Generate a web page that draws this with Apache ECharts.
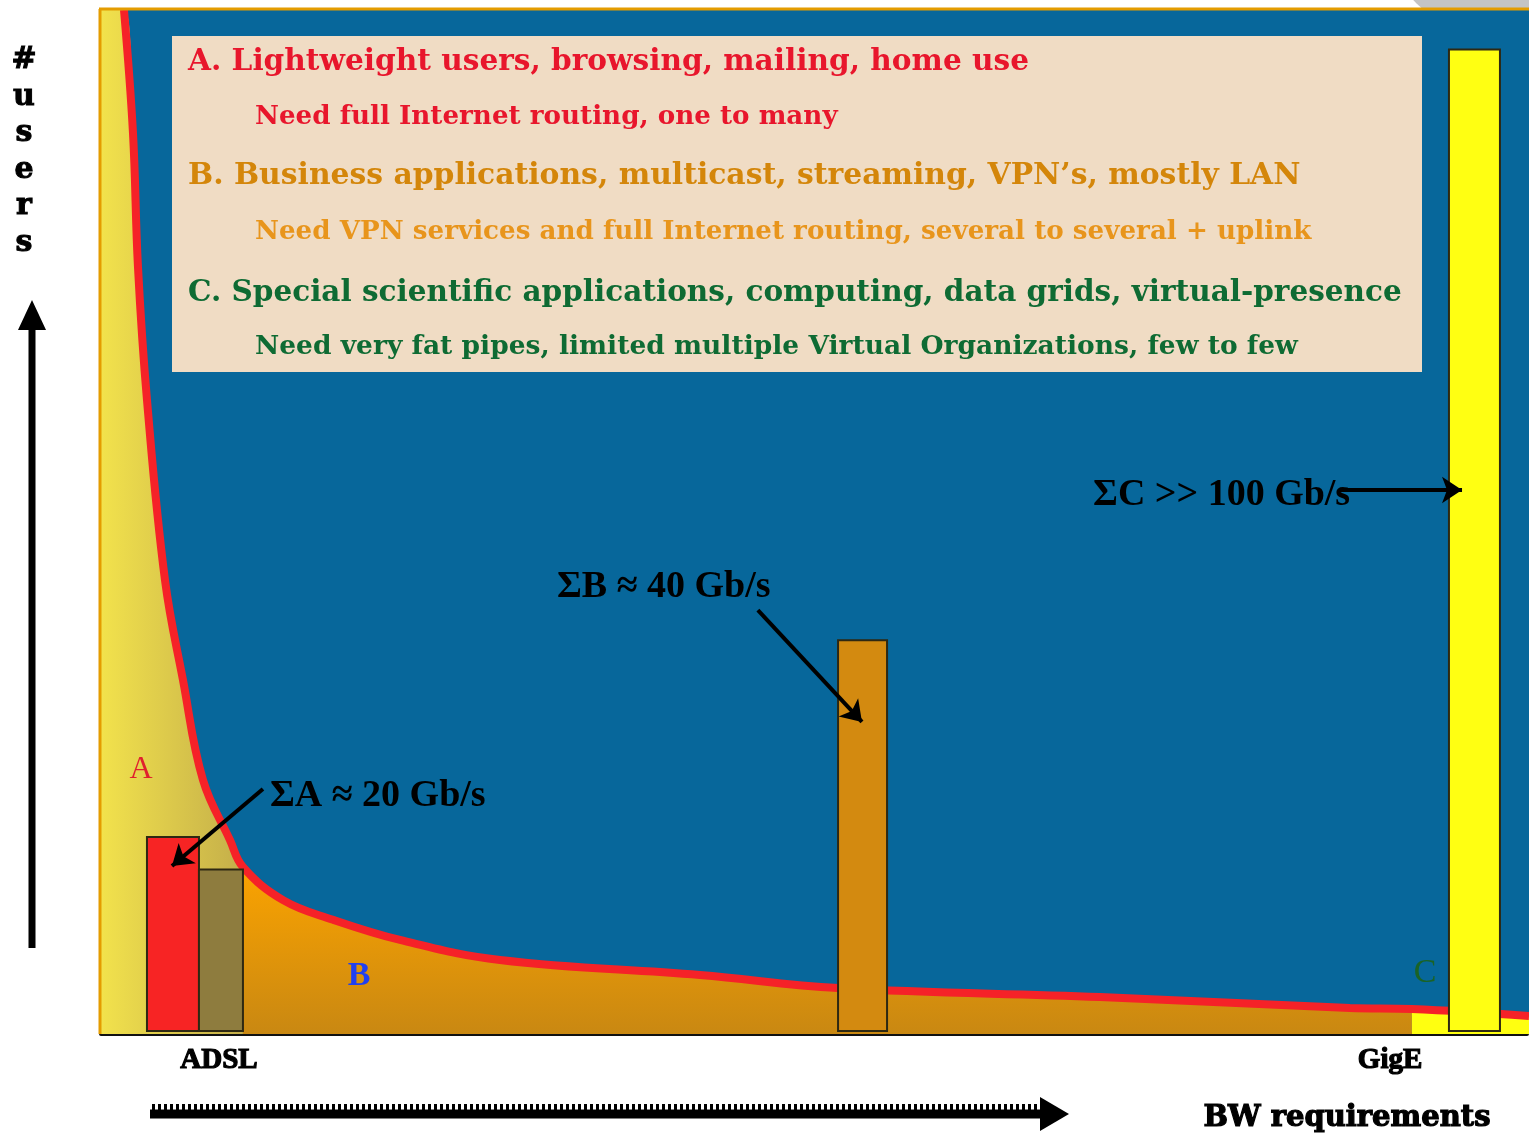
<!DOCTYPE html>
<html>
<head>
<meta charset="utf-8">
<script src="https://cdn.jsdelivr.net/npm/echarts@6/dist/echarts.min.js"></script>
<style>
  html, body { margin: 0; padding: 0; background: #ffffff; }
  #chart { width: 1529px; height: 1137px; }
</style>
</head>
<body>
<div id="chart"></div>
<script>
// Number of users against bandwidth requirement (relative units on both axes)
const curveX = [1.61, 2.24, 2.59, 3.22, 4.48, 5.74, 7.14, 9.03, 9.94, 12.75, 16.25, 20.94, 27.94, 41.95, 51.61, 69.96, 87.46, 91.8, 100];
const curveY = [104, 91.5, 77.9, 64.4, 46.1, 35.95, 25.8, 19.7, 16.96, 13.6, 11.6, 9.55, 7.52, 5.99, 4.67, 3.76, 2.64, 2.54, 1.83];

// Where user class A ends / class C begins along the bandwidth axis
const classEdgeAB = 9.94;
const classEdgeBC = 91.8;

// Aggregate bandwidth per class, Gb/s (second bar is the rest of class A)
const barClass = ['A', 'A2', 'B', 'C'];
const barX = [5.04, 8.4, 53.33, 96.18];
const barGbps = [20, 16.7, 40, 100];

// Bandwidth axis labels
const xLabelNames = ['ADSL', 'GigE'];
const xLabelAt = [8.26, 90.27];

// Description of the three user classes
const classLines = [
  'A. Lightweight users, browsing, mailing, home use',
  'Need full Internet routing, one to many',
  'B. Business applications, multicast, streaming, VPN\u2019s, mostly LAN',
  'Need VPN services and full Internet routing, several to several + uplink',
  'C. Special scientific applications, computing, data grids, virtual-presence',
  'Need very fat pipes, limited multiple Virtual Organizations, few to few'
];

// ---- styling / layout ----
const yMax = 104;
const barWidthPx = [52, 44, 49, 51];
const barFill = ['#f72424', '#8e7c3e', '#d38a10', '#ffff12'];
const lineColor = ['#e8162c', '#e8162c', '#d4860a', '#e8951c', '#0e6b33', '#0e6b33'];
const lineLeft = [188, 255, 188, 255, 188, 255];
const lineMid = [62, 117, 176, 232, 293, 347];
const lineFont = [
  'bold 29.6px "DejaVu Serif"', 'bold 26.2px "DejaVu Serif"',
  'bold 29.8px "DejaVu Serif"', 'bold 26.2px "DejaVu Serif"',
  'bold 29.5px "DejaVu Serif"', 'bold 26.5px "DejaVu Serif"'
];

// annotation anchors in axis units
const sumAnchor = [[11.83, 24.17], [31.93, 45.4], [69.47, 54.74]];
const arrowTail = [[11.34, 24.88], [46.0, 43.06], [86.76, 55.25]];
const arrowTip = [[4.97, 17.06], [53.29, 31.69], [95.31, 55.25]];
const sumText = [
  '\u03A3A \u2248 ' + barGbps[0] + ' Gb/s',
  '\u03A3B \u2248 ' + barGbps[2] + ' Gb/s',
  '\u03A3C >> ' + barGbps[3] + ' Gb/s'
];
const classLetter = ['A', 'B', 'C'];
const classLetterAt = [[2.8, 26.81], [18.07, 5.89], [92.72, 6.2]];
const classLetterColor = ['#e0202e', '#2040f0', '#1a6326'];
const classLetterFont = ['32px "Liberation Serif"', 'bold 34px "Liberation Serif"', '34px "Liberation Serif"'];

const pts = curveX.map((x, i) => [x, curveY[i]]);
const fillA = [[0, yMax]].concat(pts.filter(p => p[0] <= classEdgeAB));
const fillB = pts.filter(p => p[0] >= classEdgeAB && p[0] <= classEdgeBC);
const fillC = pts.filter(p => p[0] >= classEdgeBC);

const SMOOTH = 0.4;

function areaSeries(data, color, z) {
  return {
    type: 'line', data: data, smooth: SMOOTH, symbol: 'none',
    lineStyle: { opacity: 0 }, areaStyle: { color: color, opacity: 1 },
    z: z, silent: true, animation: false
  };
}

const chart = echarts.init(document.getElementById('chart'));

chart.setOption({
  animation: false,
  grid: { left: 101, top: 10, right: 0, bottom: 103, show: true, backgroundColor: '#07679b', borderWidth: 0 },
  xAxis: {
    type: 'value', min: 0, max: 100,
    splitLine: { show: false },
    axisTick: { show: false },
    axisLine: { show: true, onZero: false, lineStyle: { color: '#111', width: 4, type: [5, 2] } },
    axisLabel: {
      customValues: xLabelAt,
      formatter: v => { const i = xLabelAt.indexOf(v); return i >= 0 ? xLabelNames[i] : ''; },
      color: '#000', fontFamily: 'Liberation Serif', fontWeight: 'bold', fontSize: 29,
      textBorderColor: '#000', textBorderWidth: 1.2, margin: 12
    }
  },
  yAxis: { type: 'value', min: 0, max: yMax, show: false },
  series: [
    areaSeries(fillA, new echarts.graphic.LinearGradient(0, 0, 1, 0, [
      { offset: 0, color: '#f2e24c' }, { offset: 1, color: '#c4ae4a' }]), 1),
    areaSeries(fillB, new echarts.graphic.LinearGradient(0, 0, 0, 1, [
      { offset: 0, color: '#fba300' }, { offset: 1, color: '#c98812' }]), 1),
    areaSeries(fillC, '#ffff10', 1),
    {
      type: 'line', data: pts, smooth: SMOOTH, symbol: 'none',
      lineStyle: { color: '#f52228', width: 8 }, z: 2, silent: true
    },
    {
      type: 'custom', z: 3, silent: true,
      data: barX.map((x, i) => [x, barGbps[i]]),
      renderItem: function (params, api) {
        const base = api.coord([api.value(0), 0]);
        const top = api.coord([api.value(0), api.value(1)]);
        const w = barWidthPx[params.dataIndex];
        return {
          type: 'rect',
          shape: { x: base[0] - w / 2, y: top[1], width: w, height: base[1] - top[1] - 3 },
          style: { fill: barFill[params.dataIndex], stroke: '#2e2812', lineWidth: 2 }
        };
      }
    },
    {
      type: 'scatter', data: [], z: 10, silent: true,
      markLine: {
        silent: true, animation: false, z: 12,
        symbol: ['none', 'arrow'], symbolSize: 20,
        lineStyle: { color: '#000', width: 4, type: 'solid' },
        label: { show: false },
        data: arrowTail.map((t, i) => [{ coord: t }, { coord: arrowTip[i] }])
      }
    }
  ]
});

const toPx = p => chart.convertToPixel({ gridIndex: 0 }, p);

const g = [];
// grey disc peeking over the top right corner
g.push({ type: 'circle', shape: { cx: 1500, cy: -80, r: 118 }, style: { fill: '#c4c4c4' }, z: -1, silent: true });
// orange frame on the top and left of the plot
g.push({ type: 'line', shape: { x1: 99, y1: 9, x2: 1529, y2: 9 }, style: { stroke: '#e49c00', lineWidth: 3 }, z: 10 });
g.push({ type: 'line', shape: { x1: 100, y1: 9, x2: 100, y2: 1034 }, style: { stroke: '#e49c00', lineWidth: 3 }, z: 10 });

// class description box
g.push({ type: 'rect', shape: { x: 172, y: 36, width: 1250, height: 336 }, style: { fill: '#f0dcc4' }, z: 20 });
classLines.forEach((t, i) => {
  g.push({
    type: 'text', z: 21, silent: true,
    style: { text: t, x: lineLeft[i], y: lineMid[i], fill: lineColor[i], font: lineFont[i], textAlign: 'left', textVerticalAlign: 'middle' }
  });
});

// aggregate bandwidth annotations
sumText.forEach((t, i) => {
  const p = toPx(sumAnchor[i]);
  g.push({
    type: 'text', z: 21, silent: true,
    style: { text: t, x: p[0], y: p[1], fill: '#000', font: 'bold 38px "Liberation Serif"', textAlign: 'left', textVerticalAlign: 'middle' }
  });
});

// class letters inside the curve area
classLetter.forEach((t, i) => {
  const p = toPx(classLetterAt[i]);
  g.push({
    type: 'text', z: 21, silent: true,
    style: { text: t, x: p[0], y: p[1], fill: classLetterColor[i], font: classLetterFont[i], textAlign: 'center', textVerticalAlign: 'middle' }
  });
});

// vertical "#users" axis title and arrow
g.push({
  type: 'text', z: 21, silent: true,
  style: { text: '#\nu\ns\ne\nr\ns', x: 24, y: 42, fill: '#000', font: 'bold 30px "DejaVu Serif"', lineHeight: 36.6,
           textAlign: 'center', textVerticalAlign: 'top', stroke: '#000', lineWidth: 1 }
});
g.push({ type: 'line', shape: { x1: 32, y1: 948, x2: 32, y2: 322 }, style: { stroke: '#000', lineWidth: 7 }, z: 21 });
g.push({ type: 'polygon', shape: { points: [[32, 300], [18, 330], [46, 330]] }, style: { fill: '#000' }, z: 21 });

// horizontal bandwidth arrow and title
g.push({ type: 'line', shape: { x1: 150, y1: 1114, x2: 1046, y2: 1114 }, style: { stroke: '#000', lineWidth: 9 }, z: 21 });
g.push({ type: 'line', shape: { x1: 152, y1: 1107, x2: 1040, y2: 1107 }, style: { stroke: '#000', lineWidth: 6, lineDash: [3, 3] }, z: 21 });
g.push({ type: 'polygon', shape: { points: [[1069, 1114], [1040, 1097], [1040, 1131]] }, style: { fill: '#000' }, z: 21 });
g.push({
  type: 'text', z: 21, silent: true,
  style: { text: 'BW requirements', x: 1347, y: 1118, fill: '#000', font: 'bold 29px "DejaVu Serif"',
           textAlign: 'center', textVerticalAlign: 'middle', stroke: '#000', lineWidth: 1.2 }
});

chart.setOption({ graphic: { elements: g } });
</script>
</body>
</html>
